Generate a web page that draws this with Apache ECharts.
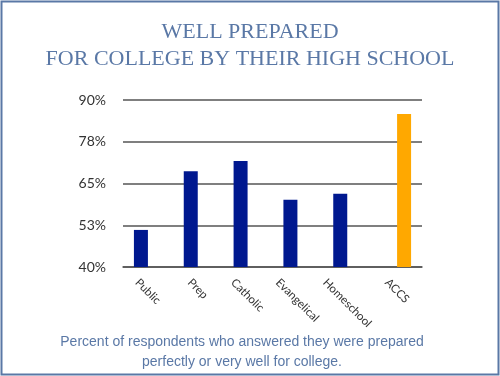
<!DOCTYPE html>
<html>
<head>
<meta charset="utf-8">
<script src="https://cdn.jsdelivr.net/npm/echarts@6/dist/echarts.min.js"></script>
<style>html,body{margin:0;padding:0;background:#fff;}#c{width:500px;height:376px;}</style>
</head>
<body>
<div id="c"></div>
<script>
var categories = ['Public', 'Prep', 'Catholic', 'Evangelical', 'Homeschool', 'ACCS'];
var otherSchools = [51.1, 68.7, 71.7, 60.1, 61.9, null];
var accsSchools = [null, null, null, null, null, 85.8];
var yMin = 40, yMax = 90, yStep = 12.5;
var titleLines = ['WELL PREPARED', 'FOR COLLEGE BY THEIR HIGH SCHOOL'];
var captionLines = ['Percent of respondents who answered they were prepared', 'perfectly or very well for college.'];

var labelFont = '11.5px Lato';
var chart = echarts.init(document.getElementById('c'), null, {renderer: 'canvas'});
chart.setOption({
  animation: false,
  backgroundColor: '#fff',
  title: {
    text: titleLines.join('\n'),
    left: 'center',
    top: 14,
    textStyle: {
      fontFamily: 'Liberation Serif',
      fontWeight: 'normal',
      fontSize: 22,
      color: '#5a78a6',
      lineHeight: 27
    }
  },
  grid: {left: 123, right: 78, top: 100, bottom: 109, containLabel: false},
  xAxis: {
    type: 'category',
    data: categories,
    axisLine: {lineStyle: {color: '#555', width: 1.5}},
    axisTick: {show: false},
    axisLabel: {show: false}
  },
  yAxis: {
    type: 'value',
    min: yMin,
    max: yMax,
    interval: yStep,
    axisLine: {show: false},
    axisTick: {show: false},
    splitLine: {lineStyle: {color: '#555', width: 1.5}},
    axisLabel: {
      margin: 17,
      fontFamily: 'Lato',
      fontSize: 14,
      color: '#333',
      formatter: function (v) { return Math.round(v) + '%'; }
    }
  },
  series: [
    {type: 'bar', data: otherSchools, barWidth: 14, barGap: '0%', itemStyle: {color: '#00188f'}},
    {type: 'bar', data: accsSchools, barWidth: 14, barGap: '0%', itemStyle: {color: '#ffa800'}}
  ]
});

// category labels: rotated, centred on the category, tops aligned
var ctx = document.createElement('canvas').getContext('2d');
ctx.font = labelFont;
var basePx = chart.convertToPixel({yAxisIndex: 0}, yMin);
var lineH = 13;
var graphics = [
  {type: 'rect', shape: {x: 1.5, y: 1.5, width: 497, height: 373}, style: {fill: null, stroke: '#5a78a6', lineWidth: 2}, silent: true},
  {type: 'text', x: 242, y: 332, style: {text: captionLines.join('\n'), font: '14px "Liberation Sans"', fill: '#5a78a6', textAlign: 'center', align: 'center', lineHeight: 20}}
];
categories.forEach(function (c) {
  var cx = chart.convertToPixel({xAxisIndex: 0}, c);
  var w = ctx.measureText(c).width;
  var cy = basePx + 9 + 0.3536 * (w + lineH);
  graphics.push({
    type: 'text', x: cx, y: cy, rotation: -Math.PI / 4,
    style: {text: c, font: labelFont, fill: '#333', textAlign: 'center', align: 'center', textVerticalAlign: 'middle', verticalAlign: 'middle'}
  });
});
chart.setOption({graphic: graphics});
</script>
</body>
</html>
